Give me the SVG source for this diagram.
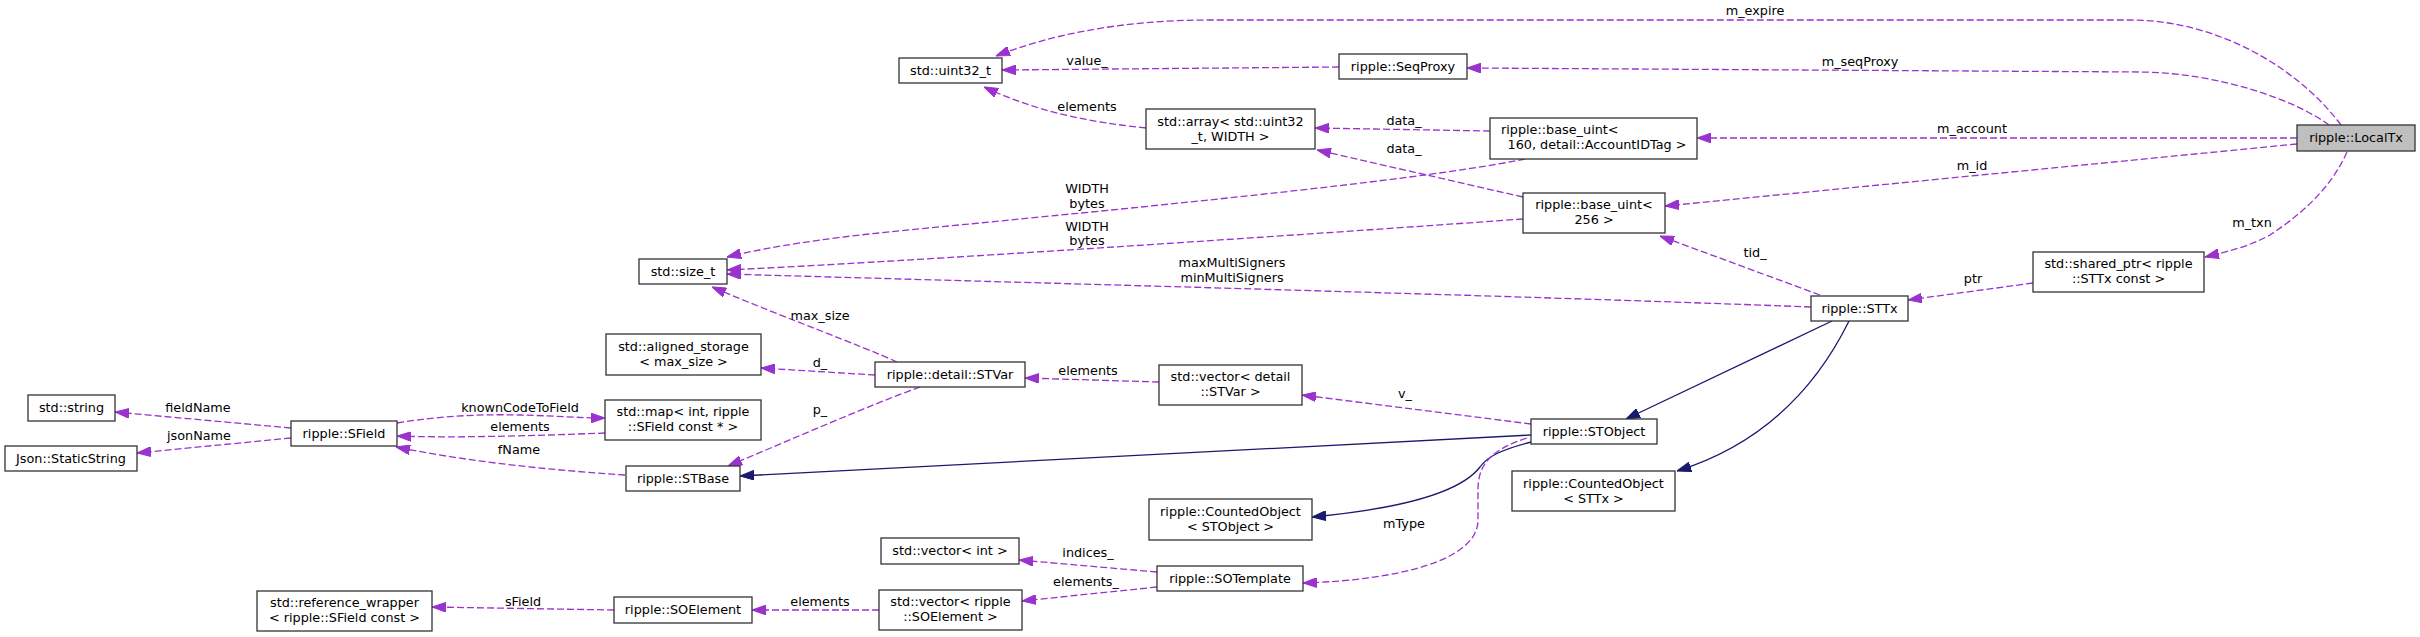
<svg xmlns="http://www.w3.org/2000/svg" width="2420" height="637" viewBox="0 0 2420 637">
<style>
text{font-family:"DejaVu Sans","Liberation Sans",sans-serif;font-size:12.8px;fill:#000}
.n rect{fill:#fff;stroke:#333;stroke-width:1.3}
.n text,.e text{text-anchor:middle}
.e path{fill:none;stroke-width:1.3}
.e path.d{stroke:#9a32cd;stroke-dasharray:7,3;marker-end:url(#ad)}
.e path.s{stroke:#191970;marker-end:url(#as)}
</style>
<defs>
<marker id="ad" markerUnits="userSpaceOnUse" markerWidth="14" markerHeight="10" viewBox="0 0 13 9" refX="13" refY="4.5" orient="auto"><path d="M0,0L13,4.5L0,9z" fill="#9a32cd" stroke="#9a32cd" stroke-width="1"/></marker>
<marker id="as" markerUnits="userSpaceOnUse" markerWidth="14" markerHeight="10" viewBox="0 0 13 9" refX="13" refY="4.5" orient="auto"><path d="M0,0L13,4.5L0,9z" fill="#191970" stroke="#191970" stroke-width="1"/></marker>
</defs>
<rect width="2420" height="637" fill="#fff"/>
<g id="connectors">
<g class="e" id="e_m_expire"><path class="d" d="M2341,125C2300,70 2220,20 2130,20L1210,20C1120,20 1050,35 996,56"/><text x="1755" y="15">m_expire</text></g>
<g class="e" id="e_m_seqProxy"><path class="d" d="M2329,125C2295,100 2220,73 2140,72L1467,68"/><text x="1860" y="66">m_seqProxy</text></g>
<g class="e" id="e_m_account"><path class="d" d="M2297,138L1697,138"/><text x="1972" y="133">m_account</text></g>
<g class="e" id="e_m_id"><path class="d" d="M2297,144L1665,206"/><text x="1972" y="170">m_id</text></g>
<g class="e" id="e_m_txn"><path class="d" d="M2347,152C2330,190 2300,215 2270,235C2250,246 2230,251 2205,257"/><text x="2252" y="227">m_txn</text></g>
<g class="e" id="e_value"><path class="d" d="M1339,67L1002,70"/><text x="1087" y="65">value_</text></g>
<g class="e" id="e_elements_arr"><path class="d" d="M1146,128C1090,122 1040,113 984,87"/><text x="1087" y="111">elements</text></g>
<g class="e" id="e_data1"><path class="d" d="M1490,131L1315,128"/><text x="1404" y="125">data_</text></g>
<g class="e" id="e_data2"><path class="d" d="M1523,197L1317,150"/><text x="1404" y="153">data_</text></g>
<g class="e" id="e_width1"><path class="d" d="M1525,159C1400,185 1000,220 860,235C800,242 760,249 727,257"/><text x="1087" y="193">WIDTH</text><text x="1087" y="208">bytes</text></g>
<g class="e" id="e_width2"><path class="d" d="M1523,219C1300,235 900,262 727,270"/><text x="1087" y="231">WIDTH</text><text x="1087" y="245">bytes</text></g>
<g class="e" id="e_multi"><path class="d" d="M1811,307C1500,295 1000,282 727,274"/><text x="1232" y="267">maxMultiSigners</text><text x="1232" y="282">minMultiSigners</text></g>
<g class="e" id="e_tid"><path class="d" d="M1820,295L1660,236"/><text x="1755" y="257">tid_</text></g>
<g class="e" id="e_ptr"><path class="d" d="M2033,283L1908,300"/><text x="1973" y="283">ptr</text></g>
<g class="e" id="e_inh_stobject"><path class="s" d="M1832,321L1626,419"/></g>
<g class="e" id="e_inh_cnt_sttx"><path class="s" d="M1849,321C1815,390 1760,445 1677,471"/></g>
<g class="e" id="e_inh_stbase"><path class="s" d="M1531,435L740,476"/></g>
<g class="e" id="e_inh_cnt_stobj"><path class="s" d="M1531,442C1500,450 1487,457 1480,467C1470,480 1440,505 1312,517"/></g>
<g class="e" id="e_mtype"><path class="d" d="M1527,438C1490,450 1478,465 1478,490L1478,520C1478,560 1400,580 1303,583"/><text x="1404" y="528">mType</text></g>
<g class="e" id="e_v"><path class="d" d="M1531,424L1302,395"/><text x="1405" y="398">v_</text></g>
<g class="e" id="e_elements_stvar"><path class="d" d="M1159,382L1025,378"/><text x="1088" y="375">elements</text></g>
<g class="e" id="e_max_size"><path class="d" d="M897,362C860,345 790,320 712,287"/><text x="820" y="320">max_size</text></g>
<g class="e" id="e_d"><path class="d" d="M875,375L761,368"/><text x="820" y="367">d_</text></g>
<g class="e" id="e_p"><path class="d" d="M920,387C870,405 790,440 728,466"/><text x="820" y="414">p_</text></g>
<g class="e" id="e_known"><path class="d" d="M397,423C440,416 480,414 520,415C560,416 580,418 605,418"/><text x="520" y="412">knownCodeToField</text></g>
<g class="e" id="e_elements_map"><path class="d" d="M605,433C530,436 450,438 397,436"/><text x="520" y="431">elements</text></g>
<g class="e" id="e_fname"><path class="d" d="M625,475C550,470 470,462 396,447"/><text x="519" y="454">fName</text></g>
<g class="e" id="e_fieldname"><path class="d" d="M291,428L115,412"/><text x="198" y="412">fieldName</text></g>
<g class="e" id="e_jsonname"><path class="d" d="M291,438L137,453"/><text x="199" y="440">jsonName</text></g>
<g class="e" id="e_indices"><path class="d" d="M1157,572L1019,560"/><text x="1088" y="557">indices_</text></g>
<g class="e" id="e_elements_so"><path class="d" d="M1157,587L1022,601"/><text x="1086" y="586">elements_</text></g>
<g class="e" id="e_elements_soel"><path class="d" d="M879,610L752,610"/><text x="820" y="606">elements</text></g>
<g class="e" id="e_sfield"><path class="d" d="M614,610L432,607"/><text x="523" y="606">sField</text></g>
</g>
<g class="n" id="n_uint32"><rect x="899" y="58" width="103" height="25"/><text x="950.5" y="74.5">std::uint32_t</text></g>
<g class="n" id="n_seqproxy"><rect x="1339" y="54" width="128" height="25"/><text x="1403" y="70.5">ripple::SeqProxy</text></g>
<g class="n" id="n_array"><rect x="1146" y="109" width="169" height="40"/><text x="1230.5" y="125.5">std::array&lt; std::uint32</text><text x="1230.5" y="140.5">_t, WIDTH &gt;</text></g>
<g class="n" id="n_bu160"><rect x="1490" y="118" width="207" height="41"/><text x="1501" y="134" style="text-anchor:start">ripple::base_uint&lt;</text><text x="1597" y="149">160, detail::AccountIDTag &gt;</text></g>
<g class="n" id="n_localtx"><rect x="2297" y="125" width="118" height="26" style="fill:#bfbfbf"/><text x="2356" y="142">ripple::LocalTx</text></g>
<g class="n" id="n_bu256"><rect x="1523" y="193" width="142" height="40"/><text x="1594" y="209">ripple::base_uint&lt;</text><text x="1594" y="224">256 &gt;</text></g>
<g class="n" id="n_size_t"><rect x="639" y="259" width="88" height="25"/><text x="683" y="275.5">std::size_t</text></g>
<g class="n" id="n_shared_ptr"><rect x="2033" y="252" width="171" height="40"/><text x="2118.5" y="268">std::shared_ptr&lt; ripple</text><text x="2118.5" y="283">::STTx const &gt;</text></g>
<g class="n" id="n_sttx"><rect x="1811" y="296" width="97" height="25"/><text x="1859.5" y="312.5">ripple::STTx</text></g>
<g class="n" id="n_aligned"><rect x="606" y="334" width="155" height="41"/><text x="683.5" y="350.5">std::aligned_storage</text><text x="683.5" y="365.5">&lt; max_size &gt;</text></g>
<g class="n" id="n_stvar"><rect x="875" y="362" width="150" height="25"/><text x="950" y="378.5">ripple::detail::STVar</text></g>
<g class="n" id="n_vecstvar"><rect x="1159" y="365" width="143" height="40"/><text x="1230.5" y="381">std::vector&lt; detail</text><text x="1230.5" y="396">::STVar &gt;</text></g>
<g class="n" id="n_string"><rect x="28" y="395" width="87" height="26"/><text x="71.5" y="411.5">std::string</text></g>
<g class="n" id="n_sfield"><rect x="291" y="421" width="106" height="25"/><text x="344" y="437.5">ripple::SField</text></g>
<g class="n" id="n_map"><rect x="605" y="400" width="156" height="40"/><text x="683" y="416">std::map&lt; int, ripple</text><text x="683" y="431">::SField const * &gt;</text></g>
<g class="n" id="n_json"><rect x="5" y="446" width="132" height="25"/><text x="71" y="462.5">Json::StaticString</text></g>
<g class="n" id="n_stbase"><rect x="626" y="466" width="114" height="25"/><text x="683" y="482.5">ripple::STBase</text></g>
<g class="n" id="n_stobject"><rect x="1531" y="419" width="126" height="25"/><text x="1594" y="435.5">ripple::STObject</text></g>
<g class="n" id="n_cnt_sttx"><rect x="1512" y="471" width="163" height="40"/><text x="1593.5" y="487.5">ripple::CountedObject</text><text x="1593.5" y="502.5">&lt; STTx &gt;</text></g>
<g class="n" id="n_cnt_stobj"><rect x="1149" y="499" width="163" height="41"/><text x="1230.5" y="516">ripple::CountedObject</text><text x="1230.5" y="531">&lt; STObject &gt;</text></g>
<g class="n" id="n_vecint"><rect x="881" y="538" width="138" height="26"/><text x="950" y="555">std::vector&lt; int &gt;</text></g>
<g class="n" id="n_sotemplate"><rect x="1157" y="566" width="146" height="25"/><text x="1230" y="582.5">ripple::SOTemplate</text></g>
<g class="n" id="n_vecsoel"><rect x="879" y="590" width="143" height="40"/><text x="950.5" y="606">std::vector&lt; ripple</text><text x="950.5" y="621">::SOElement &gt;</text></g>
<g class="n" id="n_soelement"><rect x="614" y="597" width="138" height="26"/><text x="683" y="614">ripple::SOElement</text></g>
<g class="n" id="n_refwrap"><rect x="257" y="591" width="175" height="40"/><text x="344.5" y="607">std::reference_wrapper</text><text x="344.5" y="622">&lt; ripple::SField const &gt;</text></g>
</svg>
